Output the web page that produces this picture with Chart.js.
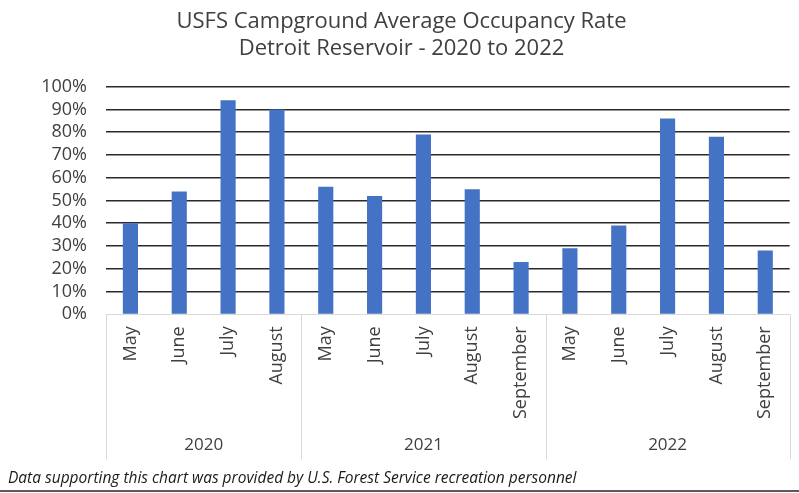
<!DOCTYPE html>
<html>
<head>
<meta charset="utf-8">
<script src="https://cdn.jsdelivr.net/npm/chart.js@4.4.1/dist/chart.umd.min.js"></script>
<style>
  html, body { margin: 0; padding: 0; background: #fff; }
  .wrap { position: relative; width: 799px; height: 490px; border-bottom: 2px solid #5a5a5a; }
</style>
</head>
<body>
<div class="wrap"><canvas id="occupancyChart"></canvas></div>
<script>
// Data
const months = ["May", "June", "July", "August", "May", "June", "July", "August", "September", "May", "June", "July", "August", "September"];
const occupancy = [40, 54, 94, 90, 56, 52, 79, 55, 23, 29, 39, 86, 78, 28];
const years = ["2020", "2021", "2022"];
const monthsPerYear = [4, 5, 5];
const yTicks = [0, 10, 20, 30, 40, 50, 60, 70, 80, 90, 100];

// group boundaries / centres in category index units
const bounds = [-0.5];
const centers = [];
monthsPerYear.forEach((n) => {
  const start = bounds[bounds.length - 1];
  centers.push(start + n / 2);
  bounds.push(start + n);
});

const textColor = "#404040";
const font = "'Open Sans', 'Liberation Sans', sans-serif";

// vertical separators between year groups under the plot
const groupLines = {
  id: "groupLines",
  afterDraw(chart) {
    const x = chart.scales.x;
    const x2 = chart.scales.x2;
    const c = chart.ctx;
    c.save();
    c.strokeStyle = "#d9d9d9";
    c.lineWidth = 1;
    bounds.forEach((b) => {
      const px = Math.round(x.getPixelForValue(b)) + 0.5;
      c.beginPath();
      c.moveTo(px, chart.chartArea.bottom);
      c.lineTo(px, x2.bottom);
      c.stroke();
    });
    c.restore();
  },
};

const ctx = document.getElementById("occupancyChart").getContext("2d");
const occupancyChart = new Chart(ctx, {
  type: "bar",
  data: {
    labels: months,
    datasets: [
      {
        label: "Occupancy",
        data: occupancy,
        backgroundColor: "#4472C4",
        barPercentage: 0.31,
        categoryPercentage: 1,
      },
    ],
  },
  options: {
    responsive: true,
    maintainAspectRatio: false,
    animation: false,
    layout: {
      padding: { left: 8, right: 4, top: 0, bottom: 0 },
    },
    plugins: {
      legend: { display: false },
      tooltip: { enabled: false },
      title: {
        display: true,
        text: ["USFS Campground Average Occupancy Rate", "Detroit Reservoir - 2020 to 2022"],
        color: textColor,
        font: { family: font, size: 22, weight: "normal", lineHeight: 1.22 },
        padding: { top: 8, bottom: 25 },
      },
      subtitle: {
        display: true,
        position: "bottom",
        align: "start",
        text: "Data supporting this chart was provided by U.S. Forest Service recreation personnel",
        color: "#1a1a1a",
        font: { family: font, size: 15.5, style: "italic", lineHeight: 1.2 },
        padding: { top: 10, bottom: 2 },
      },
    },
    scales: {
      y: {
        min: 0,
        max: 100,
        afterBuildTicks: (axis) => {
          axis.ticks = yTicks.map((v) => ({ value: v }));
        },
        afterFit: (axis) => {
          axis.width = 98;
        },
        ticks: {
          color: textColor,
          autoSkip: false,
          padding: 19,
          font: { family: font, size: 18 },
          callback: (v) => v + "%",
        },
        grid: {
          drawTicks: false,
          color: (c) => (c.tick && c.tick.value === 0 ? "#d9d9d9" : "#2a2a2a"),
          lineWidth: (c) => (c.tick && c.tick.value === 0 ? 1 : 1.6),
        },
        border: { display: false },
      },
      x: {
        grid: { display: false, drawTicks: false },
        border: { display: true, color: "#d9d9d9", width: 1 },
        ticks: {
          color: textColor,
          minRotation: 90,
          maxRotation: 90,
          autoSkip: false,
          padding: 12,
          font: { family: font, size: 18 },
        },
      },
      x2: {
        type: "linear",
        position: "bottom",
        weight: 1,
        min: bounds[0],
        max: bounds[bounds.length - 1],
        offset: false,
        afterBuildTicks: (axis) => {
          axis.ticks = centers.map((v) => ({ value: v }));
        },
        grid: { display: false, drawTicks: false },
        border: { display: false },
        ticks: {
          color: textColor,
          autoSkip: false,
          maxRotation: 0,
          padding: 4,
          font: { family: font, size: 17, lineHeight: 1.2 },
          callback: (v, i) => years[i],
        },
      },
    },
  },
  plugins: [groupLines],
});
</script>
</body>
</html>
